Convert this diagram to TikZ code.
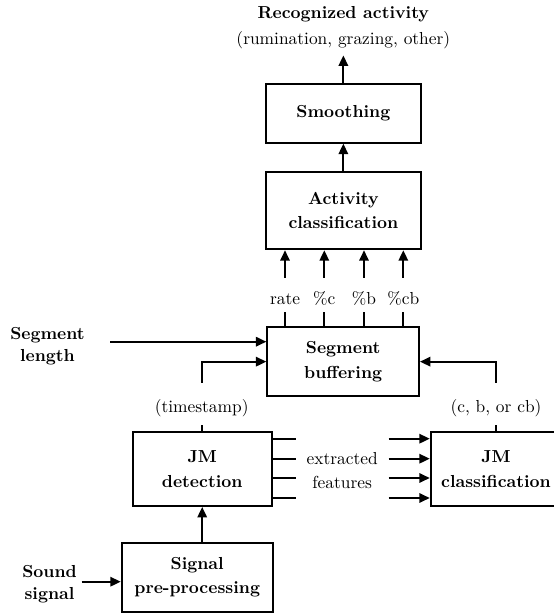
\documentclass[tikz,border=0pt]{standalone}
\usetikzlibrary{arrows.meta,calc}
\begin{document}
\begin{tikzpicture}[x=0.575pt,y=-0.575pt,
  box/.style={draw, line width=1.1pt, inner sep=0pt, align=center,
    font=\fontsize{10}{14}\selectfont\bfseries},
  conn/.style={line width=1.1pt},
  arr/.style={conn, -{Triangle[length=6pt,width=5.4pt]}},
  lbl/.style={inner sep=0pt, align=center},
  sidelbl/.style={inner sep=0pt, align=center, font=\fontsize{10}{12.5}\selectfont\bfseries},
  featlbl/.style={lbl, text height=15pt, text depth=4.4pt, anchor=base},
  paren/.style={lbl, text height=16.9pt, text depth=7.3pt, anchor=base}
]
\useasboundingbox (0,0) rectangle (553,615);

% boxes
\node[box, minimum width=155.3*0.575pt, minimum height=58.4*0.575pt] (smooth) at (343.35,113.5) {Smoothing};
\node[box, minimum width=155.3*0.575pt, minimum height=77*0.575pt] (act) at (343.35,210.8) {Activity\\classification};
\node[box, minimum width=151.7*0.575pt, minimum height=68.7*0.575pt] (seg) at (343.15,361.65) {Segment\\buffering};
\node[box, minimum width=139*0.575pt, minimum height=74*0.575pt] (jmd) at (202.2,469) {JM\\detection};
\node[box, minimum width=130.6*0.575pt, minimum height=74*0.575pt] (jmc) at (496,469) {JM\\classification};
\node[box, minimum width=151*0.575pt, minimum height=68.7*0.575pt] (sig) at (197.2,577.35) {Signal\\pre-processing};

% labels
\node[lbl, inner ysep=3.4pt] (out) at (343.35,27.9) {\textbf{Recognized activity}\\[3pt](rumination, grazing, other)};
\node[featlbl] (r1) at (285,304) {rate};
\node[featlbl] (r2) at (324.3,304) {\%c};
\node[featlbl] (r3) at (364,304) {\%b};
\node[featlbl] (r4) at (403.3,304) {\%cb};
\node[paren] (ts) at (201.7,412.3) {(timestamp)};
\node[paren] (cb) at (496,412.3) {(c, b, or cb)};
\node[lbl, minimum width=92.3*0.575pt, font=\fontsize{10}{14}\selectfont] (feat) at (342.15,470.8) {extracted\\features};
\node[sidelbl] (seglen) at (47.5,345.9) {Segment\\length};
\node[sidelbl] (sound) at (49.5,584.25) {Sound\\signal};
\coordinate (sl) at (110,341.7);
\coordinate (ss) at (81.7,581.7);

% connectors
\draw[arr] (smooth.north) -- (out.south);
\draw[arr] (act.north) -- (smooth.south);
\foreach \r in {r1,r2,r3,r4} {
  \draw[conn] (seg.north -| \r) -- (\r.south);
  \draw[arr] (\r.north) -- (act.south -| \r);
}
\draw[arr] (sl) -- (sl -| seg.west);
\draw[arr] (ts.north) |- (seg.west);
\draw[arr] (cb.north) |- (seg.east);
\draw[conn] (ts.south |- jmd.north) -- (ts.south);
\draw[conn] (cb.south |- jmc.north) -- (cb.south);
\foreach \dy in {-30.3,-10.3,9,29} {
  \draw[conn] ($(jmd.east)+(0,\dy)$) -- ($(feat.west |- jmd.east)+(0,\dy)$);
  \draw[arr] ($(feat.east |- jmd.east)+(0,\dy)$) -- ($(jmc.west)+(0,\dy)$);
}
\draw[arr] (jmd.south |- sig.north) -- (jmd.south);
\draw[arr] (ss) -- (ss -| sig.west);
\end{tikzpicture}
\end{document}
